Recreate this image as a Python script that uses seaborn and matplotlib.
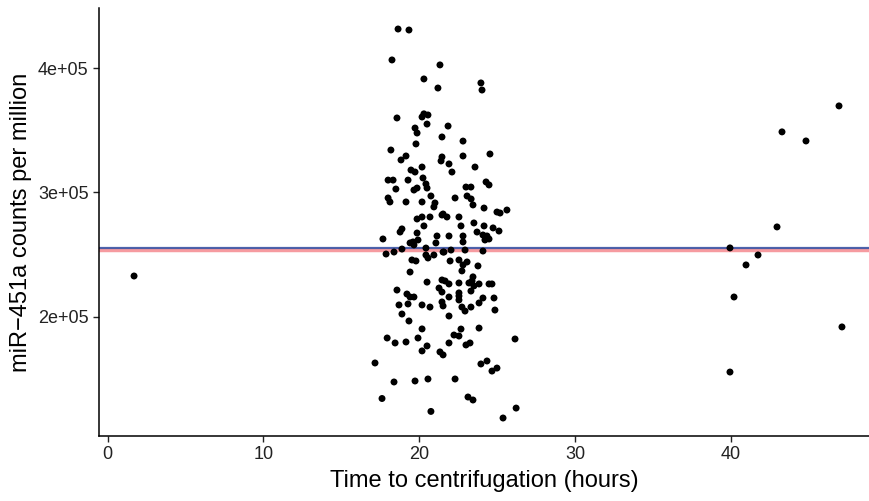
import matplotlib
matplotlib.use("Agg")
import matplotlib.pyplot as plt
import seaborn as sns
import pandas as pd

# Time to centrifugation (hours)
hours = [
    18.64, 19.34, 18.25, 21.33, 20.30, 21.20, 23.96, 24.03, 18.57, 20.18,
    20.30, 20.56, 20.50, 19.73, 19.86, 21.46, 19.79, 18.18, 19.15, 18.83,
    21.46, 21.85, 22.81, 22.81, 24.54, 21.40,
    20.18, 19.47, 19.73, 18.00, 18.32, 19.28, 20.24, 20.43, 20.50, 18.50,
    19.86, 19.66, 20.75, 18.00, 18.12, 19.15, 20.18, 21.01, 20.94, 21.46,
    19.86, 20.18, 20.69, 20.30, 18.89, 18.77, 19.86, 21.14, 17.67, 19.92,
    21.07, 19.41, 19.66, 19.60, 18.89, 20.43, 21.59, 17.87, 18.38, 20.43,
    20.56, 20.94, 19.53, 19.79, 19.41, 20.50, 21.46, 18.57, 19.21, 21.27,
    21.46,
    21.91, 23.58, 22.10, 24.29, 24.48, 23.00, 23.32, 22.30, 23.07, 23.33,
    23.45, 24.16, 25.63, 24.99, 25.19, 21.53, 21.78, 22.55, 23.51, 22.68,
    24.16, 24.74, 25.12, 23.71, 21.91, 22.81, 22.81, 24.09, 24.35, 24.48,
    24.22, 21.53, 22.04, 22.94, 24.09, 21.98, 22.55, 23.07, 22.81, 23.77,
    22.74, 23.45, 21.66, 21.91, 22.55, 23.19, 23.39, 23.51, 23.84, 24.48,
    24.67, 22.55,
    19.41, 19.66, 18.70, 19.28, 20.18, 20.69, 21.46, 21.53, 18.89, 19.34,
    20.18, 17.94, 18.45, 19.15, 19.92, 20.50, 20.18, 21.33, 21.53, 17.16,
    18.38, 19.73, 20.56, 17.61, 20.75,
    21.91, 22.55, 22.55, 23.32, 24.09, 23.84, 24.80, 22.74, 22.94, 23.32,
    24.86, 21.91, 23.84, 22.68, 22.23, 22.55, 26.15, 21.91, 23.00, 23.26,
    23.96, 24.35, 24.67, 24.99, 22.30, 23.13, 23.45, 26.22, 25.38,
    1.69, 46.95, 43.29, 44.83, 42.97, 39.95, 41.75, 40.98, 40.21, 47.14,
    39.95,
]

# miR-451a counts per million (thousands)
cpm_k = [
    431.4, 430.6, 406.5, 402.5, 391.2, 383.9, 388.0, 382.3, 359.8, 360.6,
    363.1, 362.2, 354.9, 351.7, 347.7, 344.5, 338.9, 334.0, 329.2, 326.0,
    328.4, 353.3, 341.2, 329.2, 330.8, 325.2,
    320.3, 317.9, 316.3, 309.8, 309.8, 309.8, 311.5, 306.7, 303.4, 302.6,
    303.4, 301.8, 297.0, 295.4, 292.2, 292.2, 292.2, 291.4, 288.2, 281.7,
    278.5, 280.1, 280.1, 272.9, 270.5, 268.0, 267.2, 264.8, 262.4, 261.6,
    259.2, 259.2, 257.6, 260.0, 254.3, 255.1, 251.9, 250.3, 251.9, 249.5,
    247.1, 249.5, 245.5, 244.7, 235.8, 227.7, 229.4, 221.3, 218.1, 222.9,
    219.7,
    322.8, 320.3, 316.3, 308.3, 305.9, 304.2, 304.2, 295.4, 297.0, 294.6,
    289.8, 287.3, 285.7, 284.1, 283.3, 282.5, 280.1, 280.1, 275.3, 272.9,
    272.9, 271.3, 268.8, 268.0, 264.8, 264.8, 260.0, 265.6, 264.8, 262.4,
    261.6, 251.9, 253.5, 253.5, 252.7, 244.7, 245.5, 243.9, 241.5, 240.7,
    236.7, 231.9, 228.6, 226.2, 227.0, 227.0, 228.6, 224.6, 226.2, 226.2,
    226.2, 219.0,
    215.7, 215.7, 209.3, 210.1, 209.3, 207.6, 211.7, 208.5, 202.0, 196.4,
    190.0, 182.7, 178.7, 179.5, 182.7, 176.3, 172.3, 171.5, 169.1, 162.6,
    147.3, 148.1, 149.7, 134.0, 123.6,
    215.7, 216.5, 213.3, 220.5, 214.9, 210.9, 214.9, 207.6, 204.4, 207.6,
    205.2, 200.4, 190.7, 189.9, 185.1, 184.3, 181.9, 178.7, 177.1, 178.7,
    161.8, 164.2, 156.1, 158.5, 149.7, 135.2, 132.8, 126.3, 118.3,
    232.6, 369.5, 348.6, 341.3, 272.1, 255.2, 249.5, 241.5, 215.7, 191.6,
    155.3,
]

# Horizontal reference lines (counts per million)
blue_line = 255400
red_line = 253300

df = pd.DataFrame({"hours": hours, "cpm": [v * 1000 for v in cpm_k]})

sns.set_theme(style="ticks")
plt.rcParams["font.family"] = ["Liberation Sans", "DejaVu Sans"]

fig = plt.figure(figsize=(8.7, 5.01), dpi=100)
ax = fig.add_axes([0.1138, 0.1297, 0.8862, 0.8543])

ax.axhline(red_line, color="#F47A80", lw=3.2, alpha=0.75, zorder=1)
ax.axhline(blue_line, color="#3A55A6", lw=1.6, alpha=0.9, zorder=2)

sns.scatterplot(data=df, x="hours", y="cpm", ax=ax, color="black",
                s=25, edgecolor="none", linewidth=0, zorder=3)

ax.set_xlim(-0.56, 48.94)
ax.set_ylim(103800, 448300)
ax.set_xticks([0, 10, 20, 30, 40])
ax.set_yticks([200000, 300000, 400000])
ax.set_yticklabels(["2e+05", "3e+05", "4e+05"])

ax.set_xlabel("Time to centrifugation (hours)", fontsize=17, color="black",
              labelpad=5)
ax.set_ylabel("miR\u2212451a counts per million", fontsize=17, color="black")
ax.tick_params(axis="both", labelsize=13, labelcolor="#222222", length=4,
               width=1, color="#222222", direction="out")
for sp in ["top", "right"]:
    ax.spines[sp].set_visible(False)
for sp in ["left", "bottom"]:
    ax.spines[sp].set_color("black")
    ax.spines[sp].set_linewidth(1.1)
ax.grid(False)

fig.savefig("out.png", dpi=100)
